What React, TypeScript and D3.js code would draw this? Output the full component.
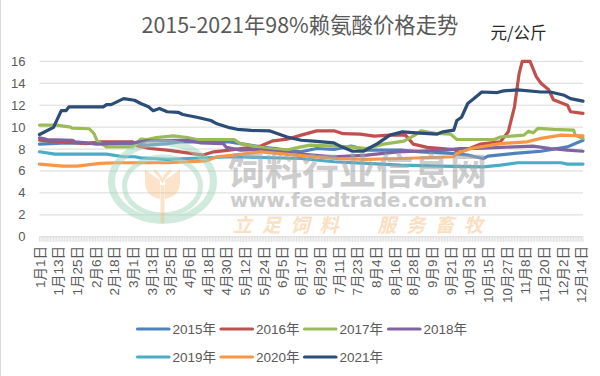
import React from "react";
import * as d3 from "d3";

const tickLabels = ["1月1日","1月13日","1月25日","2月6日","2月18日","3月1日","3月13日","3月25日","4月6日","4月18日","4月30日","5月12日","5月24日","6月5日","6月17日","6月29日","7月11日","7月23日","8月4日","8月16日","8月28日","9月9日","9月21日","10月3日","10月15日","10月27日","11月8日","11月20日","12月2日","12月14日"];
const yTicks = [0,2,4,6,8,10,12,14,16];
const lastDay = 349;

const s2015: [number,number][] = [[0,8.45],[17,8.57],[60,8.5],[69,8.36],[82,8.5],[90,8.66],[122,8.66],[131,8.45],[142,8.2],[159,7.9],[168,7.75],[178,8.05],[189,7.96],[200,8.27],[210,7.9],[232,7.9],[245,7.75],[265,7.6],[275,7.45],[285,7.14],[288,7.35],[305,7.6],[322,7.8],[339,8.2],[349,8.8]];
const s2016: [number,number][] = [[0,8.8],[17,8.65],[30,8.5],[39,8.65],[60,8.65],[63,8.27],[71,8.05],[82,7.9],[95,7.65],[105,7.45],[112,7.75],[122,7.9],[142,8.27],[150,8.75],[159,8.9],[168,9.27],[178,9.66],[189,9.66],[195,9.4],[206,9.36],[215,9.18],[225,9.27],[235,9.27],[240,8.45],[249,8.15],[266,7.96],[270,7.7],[283,8.45],[296,8.66],[301,9.57],[305,11.85],[308,14.9],[310,16],[315,16],[319,14.6],[322,14],[327,13.4],[330,12.5],[339,12],[341,11.4],[349,11.25]];
const s2017: [number,number][] = [[0,10.18],[11,10.18],[20,10],[21,9.9],[32,9.85],[35,9.4],[37,8.75],[43,8.2],[60,8.2],[65,8.9],[69,8.87],[75,9.05],[86,9.2],[95,9.05],[101,8.87],[125,8.87],[129,8.5],[140,8.2],[152,7.96],[160,7.96],[168,8.2],[174,8.36],[189,8.27],[200,8.2],[210,8.05],[221,8.45],[234,8.72],[241,9.27],[245,9.66],[255,9.42],[264,9.36],[268,8.87],[292,8.87],[296,9.1],[311,9.27],[314,9.63],[317,9.48],[320,9.88],[330,9.79],[343,9.73],[344,9.27],[349,8.97]];
const s2018: [number,number][] = [[0,9.03],[5,8.87],[21,8.8],[23,8.66],[30,8.57],[37,8.45],[60,8.57],[69,8.75],[88,8.8],[95,8.8],[103,8.57],[118,8.5],[120,8.15],[129,7.9],[140,7.96],[150,7.8],[168,7.55],[189,7.3],[210,7.45],[230,7.75],[242,7.8],[260,7.9],[270,8.05],[281,8.05],[296,8.15],[317,8.27],[328,8.05],[339,7.9],[349,7.8]];
const s2019: [number,number][] = [[0,7.75],[10,7.54],[43,7.54],[54,7.3],[61,7.3],[65,7.2],[82,7.05],[95,7.14],[112,7.23],[125,7.3],[168,7.14],[189,6.84],[210,6.69],[232,6.53],[257,6.44],[285,6.38],[296,6.53],[307,6.75],[335,6.75],[339,6.63],[349,6.63]];
const s2020: [number,number][] = [[0,6.63],[15,6.44],[24,6.44],[39,6.69],[50,6.75],[82,6.75],[107,6.93],[114,7.3],[125,7.45],[142,7.75],[168,7.4],[189,7.14],[210,7.05],[232,7.14],[266,7.3],[268,7.6],[277,8.05],[296,8.5],[313,8.66],[322,8.97],[335,9.27],[349,9.2]];
const s2021: [number,number][] = [[0,9.33],[9,9.97],[14,11.5],[17,11.5],[19,11.85],[41,11.85],[43,12.05],[46,12.05],[54,12.6],[61,12.45],[65,12.15],[70,11.85],[73,11.5],[77,11.7],[82,11.4],[89,11.35],[92,11.15],[101,10.9],[110,10.6],[114,10.3],[122,9.95],[127,9.8],[136,9.7],[148,9.65],[159,9.1],[168,8.8],[176,8.72],[189,8.57],[194,8.2],[201,7.8],[208,7.8],[217,8.5],[225,9.27],[233,9.57],[242,9.48],[255,9.36],[259,9.57],[266,9.72],[268,10.6],[271,10.9],[275,12.15],[279,12.6],[284,13.2],[294,13.15],[298,13.3],[307,13.4],[322,13.2],[328,13.2],[337,12.9],[341,12.6],[349,12.37]];

const seriesNames = ["2015年","2016年","2017年","2018年","2019年","2020年","2021年"];
const seriesData = [s2015,s2016,s2017,s2018,s2019,s2020,s2021];
const seriesColors = ["#4f81bd","#c0504d","#9bbb59","#8064a2","#4bacc6","#f79646","#2c4d75"];

const font = "'Liberation Sans', 'Noto Sans CJK SC', sans-serif";
const cjk = "'Noto Sans CJK SC', 'Noto Sans', sans-serif";
const mixed = "'Liberation Sans', 'Noto Sans CJK SC', sans-serif";

export default function App() {
  const x = d3.scaleLinear().domain([0, lastDay]).range([39.5, 583]);
  const y = d3.scaleLinear().domain([0, 16]).range([236.8, 61.3]);
  const line = d3.line<[number,number]>().x(d => x(d[0])).y(d => y(d[1])).curve(d3.curveLinear);
  const days = d3.range(0, lastDay + 1);
  const legendRows = [[0,1,2,3],[4,5,6]];
  const legendX = [136, 219.5, 303, 387];
  const legendY = [329, 357];

  return (
    <svg width={600} height={376} style={{position:"fixed",left:0,top:0,display:"block",background:"#fff"}}>
      <line x1={0.5} x2={0.5} y1={0} y2={376} stroke="#d9d9d9" />
      <text x={300} y={33} textAnchor="middle" fontFamily={cjk} fontSize={21.4} fill="#595959">2015-2021年98%赖氨酸价格走势</text>
      <text x={490.5} y={38.5} fontFamily={cjk} fontSize={16.5} fill="#262626">元/公斤</text>

      {yTicks.filter(t => t > 0).map(t => (
        <line key={t} x1={x(0)} x2={x(lastDay)} y1={y(t)} y2={y(t)} stroke="#d9d9d9" strokeWidth={1} />
      ))}
      {yTicks.map(t => (
        <text key={t} x={25.5} y={y(t) + 4.5} textAnchor="end" fontFamily={font} fontSize={13} fill="#595959">{t}</text>
      ))}
      <line x1={x(0)} x2={x(lastDay)} y1={y(0)} y2={y(0)} stroke="#d9d9d9" />
      {days.map(d => (
        <line key={d} x1={x(d)} x2={x(d)} y1={y(0)} y2={y(0) + 5} stroke="#d9d9d9" strokeWidth={0.8} />
      ))}
      {tickLabels.map((t, i) => (
        <text key={t} transform={`translate(${x(i * 12) + 5},246) rotate(-90)`} textAnchor="end" fontFamily={mixed} fontSize={13.5} fill="#595959">{t}</text>
      ))}

      {seriesData.map((s, i) => (
        <path key={seriesNames[i]} d={line(s) ?? ""} fill="none" stroke={seriesColors[i]} strokeWidth={3.2} strokeLinejoin="round" strokeLinecap="round" />
      ))}

      <g opacity={0.5}>
        <ellipse cx={162.5} cy={181.5} rx={51} ry={39} fill="none" stroke="#a3d6bf" strokeWidth={7} />
        <ellipse cx={162.5} cy={186} rx={38} ry={29} fill="none" stroke="#a3d6bf" strokeWidth={5} />
      </g>
      <g opacity={0.38}>
        <path d="M145 169 Q147 172 160 180 L160 199 Q145 196 145 182Z M180 169 Q178 172 165 180 L165 199 Q180 196 180 182Z" fill="#f9b877" />
        <path d="M154 169 Q160 172 162.5 178 Q165 172 171 169 L171 172 Q165 178 162.5 184 Q160 178 154 172Z" fill="#f9b877" />
        <rect x={160.5} y={185} width={4} height={38} fill="#f9b877" />
      </g>
      <text x={228} y={185} fontFamily={cjk} fontWeight={700} fontSize={37} fill="#a6a6a6" opacity={0.55}>饲料行业信息网</text>
      <text x={230} y={207} fontFamily="'DejaVu Sans', sans-serif" fontWeight={700} fontSize={19} fill="#a6a6a6" opacity={0.55} textLength={257} lengthAdjust="spacingAndGlyphs">www.feedtrade.com.cn</text>
      <text x={233} y={232} fontFamily={cjk} fontWeight={700} fontSize={19} fontStyle="italic" fill="#f9c58f" opacity={0.55} textLength={250}>立足饲料　服务畜牧</text>

      {legendRows.map((row, r) => row.map((si, c) => (
        <g key={si}>
          <line x1={legendX[c] + 1.5} x2={legendX[c] + 33} y1={legendY[r]} y2={legendY[r]} stroke={seriesColors[si]} strokeWidth={3.2} strokeLinecap="round" />
          <text x={legendX[c] + 36.5} y={legendY[r] + 4.5} fontFamily={mixed} fontSize={13.5} fill="#595959">{seriesNames[si]}</text>
        </g>
      )))}
    </svg>
  );
}
